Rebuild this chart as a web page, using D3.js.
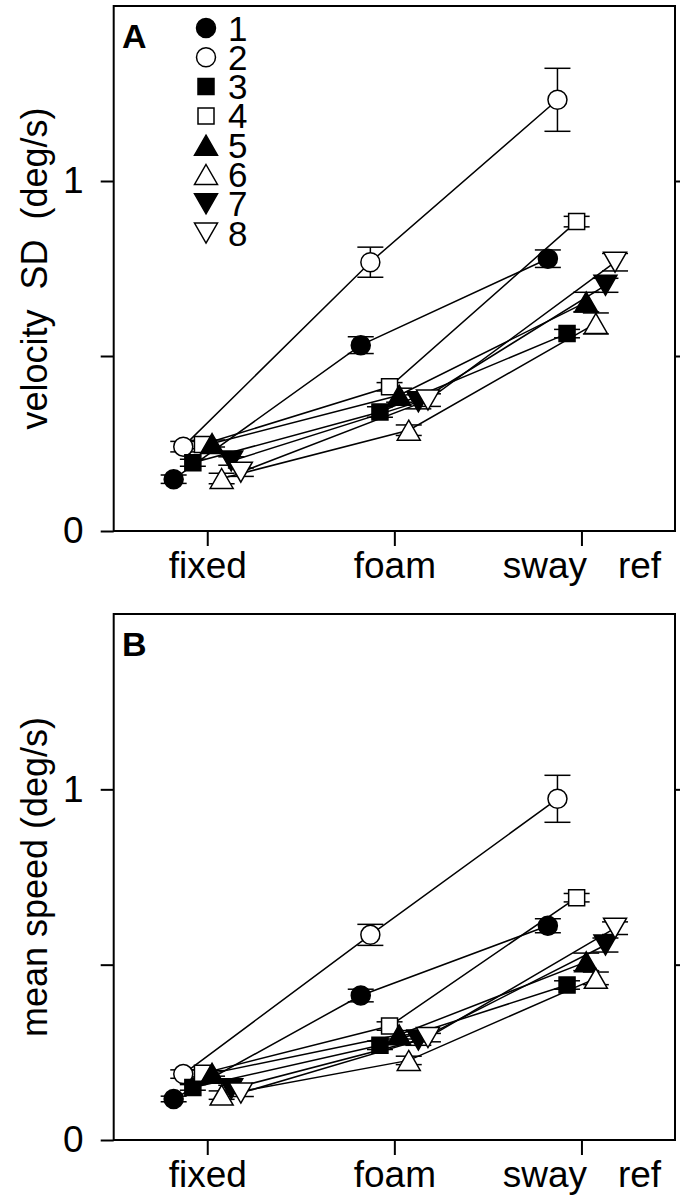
<!DOCTYPE html>
<html>
<head>
<meta charset="utf-8">
<script src="https://cdn.jsdelivr.net/npm/d3@7"></script>
<style>
  body { margin: 0; background: #fff; }
  svg { display: block; }
  text { font-family: "Liberation Sans", Arial, Helvetica, sans-serif; fill: #000; }
</style>
</head>
<body>
<svg id="chart" width="680" height="1197"></svg>
<script>
// Conditions on the x axis; the last tick also carries the "ref" caption
const conditions = ["fixed", "foam", "sway"];
const refLabel = "ref";

// Subjects 1..8 and their marker styles
const subjects = ["1", "2", "3", "4", "5", "6", "7", "8"];
const shapes = ["circle", "circle", "square", "square", "up", "up", "down", "down"];
const filled = [true, false, true, false, true, false, true, false];

// Panel A: velocity SD (deg/s), per subject [fixed, foam, sway]
const velocitySD = [
  [0.148, 0.531, 0.778],
  [0.241, 0.768, 1.232],
  [0.195, 0.340, 0.564],
  [0.247, 0.412, 0.884],
  [0.250, 0.388, 0.654],
  [0.150, 0.288, 0.593],
  [0.200, 0.369, 0.702],
  [0.168, 0.374, 0.768]
];
const velocitySDErr = [
  [0.012, 0.024, 0.025],
  [0.015, 0.043, 0.090],
  [0.010, 0.015, 0.012],
  [0.012, 0.012, 0.015],
  [0.010, 0.020, 0.028],
  [0.015, 0.015, 0.030],
  [0.012, 0.020, 0.020],
  [0.012, 0.018, 0.025]
];

// Panel B: mean speed (deg/s), per subject [fixed, foam, sway]
const meanSpeed = [
  [0.117, 0.412, 0.611],
  [0.188, 0.585, 0.973],
  [0.150, 0.270, 0.442],
  [0.190, 0.325, 0.691],
  [0.190, 0.300, 0.508],
  [0.128, 0.227, 0.461],
  [0.146, 0.285, 0.556],
  [0.134, 0.292, 0.604]
];
const meanSpeedErr = [
  [0.008, 0.018, 0.020],
  [0.012, 0.030, 0.067],
  [0.008, 0.012, 0.012],
  [0.010, 0.012, 0.012],
  [0.008, 0.012, 0.025],
  [0.012, 0.012, 0.018],
  [0.010, 0.015, 0.020],
  [0.010, 0.012, 0.018]
];

const yTicks = [0, 0.5, 1];
const yLabelledTicks = [0, 1];

const svg = d3.select("#chart");
const left = 113.7, right = 675;
const x = d3.scaleLinear().domain([0.5, 3.5]).range([left, right]);
const spread = 0.0513; // horizontal stagger between subjects

const R = 9.5, SQ = 16, TW = 11.5, TH = 10;
function markerPath(kind) {
  const p = d3.path();
  if (kind === "circle") { p.moveTo(R, 0); p.arc(0, 0, R, 0, 2 * Math.PI); }
  else if (kind === "square") { p.rect(-SQ / 2, -SQ / 2, SQ, SQ); }
  else if (kind === "up") { p.moveTo(0, -TH); p.lineTo(TW, TH); p.lineTo(-TW, TH); p.closePath(); }
  else { p.moveTo(0, TH); p.lineTo(TW, -TH); p.lineTo(-TW, -TH); p.closePath(); }
  return p.toString();
}

const tickName = d => {
  const c = conditions[d - 1];
  return d === conditions.length ? `${c}   ${refLabel}` : c;
};

function panel(opts) {
  const { top, bottom, values, errors, letter, yTitle, legend } = opts;
  const y = d3.scaleLinear().domain([0, 1.5]).range([bottom, top]);
  const g = svg.append("g");

  // left axis with labels at 0 and 1
  const ax = g.append("g").attr("transform", `translate(${left},0)`)
    .call(d3.axisLeft(y).tickValues(yTicks).tickSize(13).tickPadding(17)
      .tickFormat(d => yLabelledTicks.includes(d) ? d3.format("d")(d) : ""));
  // right axis, ticks only
  const ar = g.append("g").attr("transform", `translate(${right},0)`)
    .call(d3.axisRight(y).tickValues([0.5, 1]).tickSize(10).tickFormat(""));
  // bottom axis with condition names
  const ab = g.append("g").attr("transform", `translate(0,${bottom})`)
    .call(d3.axisBottom(x).tickValues([1, 2, 3]).tickSize(15).tickPadding(6)
      .tickFormat(tickName));
  [ax, ar, ab].forEach(a => {
    a.select(".domain").remove();
    a.selectAll("line").attr("stroke", "#000").attr("stroke-width", 2);
    a.selectAll("text").attr("font-size", 37).attr("font-family", null)
      .attr("fill", "#000").style("white-space", "pre");
  });

  // frame
  g.append("rect").attr("x", left).attr("y", top)
    .attr("width", right - left).attr("height", bottom - top)
    .attr("fill", "none").attr("stroke", "#000").attr("stroke-width", 2);

  // y title
  g.append("text")
    .attr("transform", `translate(47,${(top + bottom) / 2}) rotate(-90)`)
    .attr("text-anchor", "middle").attr("font-size", 36)
    .style("white-space", "pre").text(yTitle);

  // panel letter
  g.append("text").attr("x", 122).attr("y", top + 42)
    .attr("font-size", 34).attr("font-weight", "bold").text(letter);

  const px = (k, c) => x(c + 1 + (k - 3.5) * spread);

  // connecting lines
  const line = d3.line().x(d => d[0]).y(d => d[1]);
  subjects.forEach((s, k) => {
    g.append("path")
      .attr("d", line(values[k].map((v, c) => [px(k, c), y(v)])))
      .attr("fill", "none").attr("stroke", "#000").attr("stroke-width", 1.5);
  });

  // error bars
  subjects.forEach((s, k) => {
    values[k].forEach((v, c) => {
      const cx = px(k, c), e = errors[k][c];
      const eg = g.append("g").attr("stroke", "#000").attr("stroke-width", 1.5);
      eg.append("line").attr("x1", cx).attr("x2", cx).attr("y1", y(v - e)).attr("y2", y(v + e));
      [v - e, v + e].forEach(t => eg.append("line")
        .attr("x1", cx - 13).attr("x2", cx + 13).attr("y1", y(t)).attr("y2", y(t)));
    });
  });

  // markers
  subjects.forEach((s, k) => {
    values[k].forEach((v, c) => {
      g.append("path").attr("d", markerPath(shapes[k]))
        .attr("transform", `translate(${px(k, c)},${y(v)})`)
        .attr("fill", filled[k] ? "#000" : "#fff")
        .attr("stroke", "#000").attr("stroke-width", 1.5);
    });
  });

  // legend
  if (legend) {
    subjects.forEach((s, k) => {
      const ly = top + 22 + k * 29.3;
      g.append("path").attr("d", markerPath(shapes[k]))
        .attr("transform", `translate(206,${ly})`)
        .attr("fill", filled[k] ? "#000" : "#fff")
        .attr("stroke", "#000").attr("stroke-width", 1.5);
      g.append("text").attr("x", 228).attr("y", ly + 12.5)
        .attr("font-size", 35).text(s);
    });
  }
}

panel({ top: 6, bottom: 531, values: velocitySD, errors: velocitySDErr,
  letter: "A", yTitle: "velocity  SD  (deg/s)", legend: true });
panel({ top: 614, bottom: 1140, values: meanSpeed, errors: meanSpeedErr,
  letter: "B", yTitle: "mean speed (deg/s)", legend: false });
</script>
</body>
</html>
